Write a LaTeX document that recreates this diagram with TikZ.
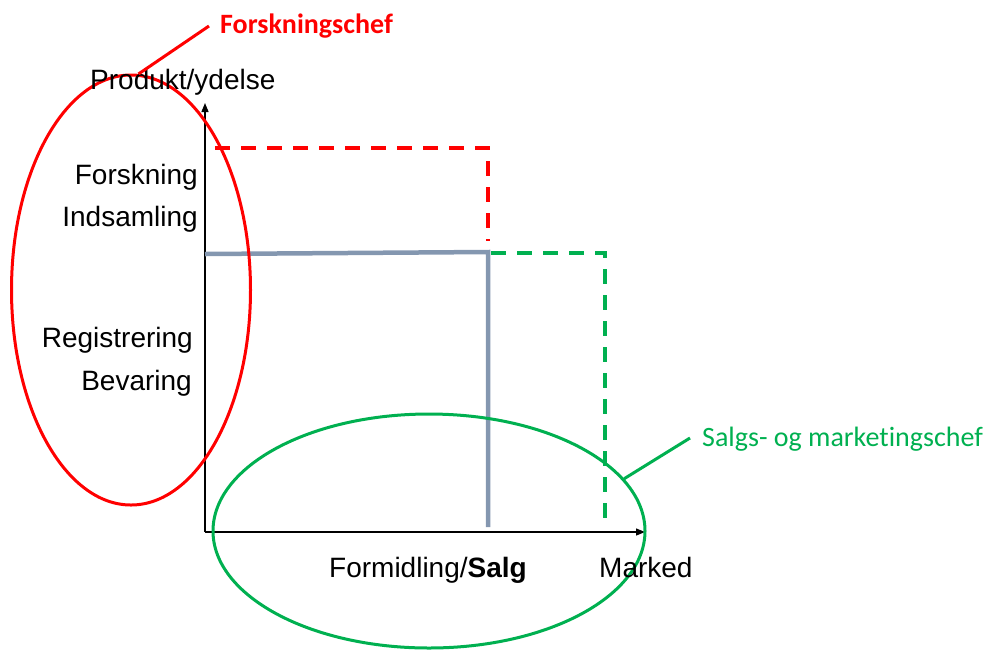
\documentclass[tikz,border=0pt]{standalone}
\usepackage{fontspec}
\setmainfont{Liberation Sans}
\newfontfamily\calib[Ligatures=NoCommon]{Carlito}
\usetikzlibrary{arrows.meta,shapes.geometric}
\begin{document}
\begin{tikzpicture}[x=1pt,y=-1pt,
  lbl/.style={inner sep=0pt,font=\fontsize{28}{32}\selectfont},
  chief/.style={inner sep=0pt,font=\calib\fontsize{28}{32}\selectfont},
  axis/.style={line width=1.3pt,-{Triangle[length=9pt,width=7pt]}},
  graybar/.style={line width=4.5pt,color=gray1},
  reddash/.style={line width=3.6pt,color=red1,dash pattern=on 15pt off 11pt},
  greendash/.style={line width=3.6pt,color=green1,dash pattern=on 15pt off 11pt},
  ring/.style={line width=3pt}]
\definecolor{red1}{RGB}{255,0,0}
\definecolor{green1}{RGB}{0,176,80}
\definecolor{gray1}{RGB}{132,151,176}
\useasboundingbox (0,0) rectangle (987,649);
% axes
\coordinate (O) at (205,532);
\coordinate (ytip) at (205,103);
\coordinate (xtip) at (645,532);
\draw[axis] (O) -- (ytip);
\draw[axis] (O) -- (xtip);
% gray lines
\coordinate (g0) at (205,254);
\coordinate (g1) at (488,252);
\coordinate (g2) at (488,527);
\draw[graybar] (g0) -- (g1) -- (g2);
% red dashed
\coordinate (r0) at (215,148);
\coordinate (r1) at (488,148);
\coordinate (r2) at (488,241);
\draw[reddash] (r0) -- (r1) -- (r2);
% green dashed
\coordinate (s0) at (491,253);
\coordinate (s1) at (605,253);
\coordinate (s2) at (605,527);
\draw[greendash] (s0) -- (s1) -- (s2);
% ellipses
\node (redell) [draw=red1,ring,ellipse,minimum width=239,minimum height=430,inner sep=0pt] at (131,290) {};
\node (greenell) [draw=green1,ring,ellipse,minimum width=432,minimum height=234,inner sep=0pt] at (429,531) {};
% labels
\node (prod) [lbl,anchor=base west] at (90,89) {Produkt/ydelse};
\node (forsk) [lbl,anchor=base east] at (198,184) {Forskning};
\node (inds) [lbl,anchor=base east] at (198,226) {Indsamling};
\node (reg) [lbl,anchor=base east] at (193,347) {Registrering};
\node (bev) [lbl,anchor=base east] at (192,390) {Bevaring};
\node (form) [lbl,anchor=base west] at (329,577) {Formidling/\textbf{Salg}};
\node (mark) [lbl,anchor=base west] at (599,577) {Marked};
% chiefs
\node (fchef) [chief,anchor=base west,text=red1] at (220,33) {\textbf{Forskningschef}};
\node (schef) [chief,anchor=base west,text=green1] at (702,446) {Salgs- og marketingschef};
\coordinate (fl) at (209,26);
\coordinate (sl) at (690,438);
\draw[red1,ring] (redell.88) -- (fl);
\draw[green1,ring] (greenell.15) -- (sl);
\end{tikzpicture}
\end{document}
